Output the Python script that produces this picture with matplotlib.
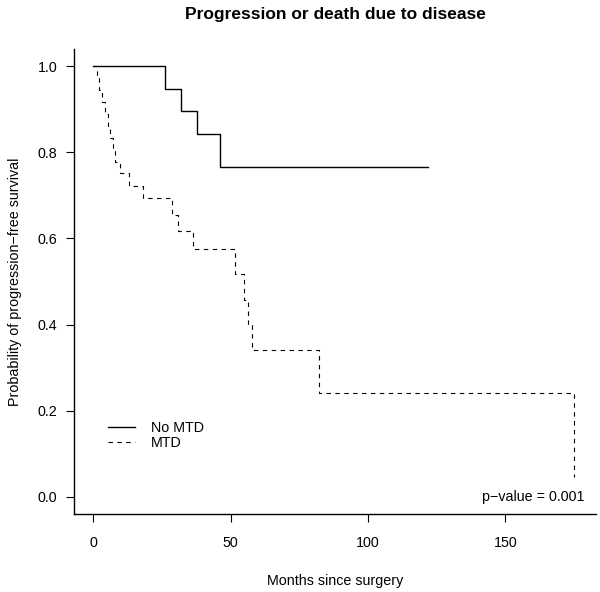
import matplotlib
matplotlib.use("Agg")
import matplotlib.pyplot as plt

plt.rcParams['font.family'] = ['Liberation Sans', 'DejaVu Sans']

# Kaplan-Meier step values
no_mtd_t = [0, 26.2, 32.0, 37.8, 46.0, 121.7]
no_mtd_s = [1.0, 0.947, 0.895, 0.842, 0.767, 0.767]

mtd_t = [0, 1.2, 2.2, 3.3, 4.2, 5.2, 6.1, 7.3, 8.0, 9.7, 13.1, 18.2,
         28.5, 31.0, 36.4, 51.7, 54.8, 56.2, 57.8, 82.0, 175.2]
mtd_s = [1.0, 0.972, 0.944, 0.917, 0.889, 0.861, 0.833, 0.806, 0.778, 0.751,
         0.722, 0.693, 0.654, 0.617, 0.576, 0.517, 0.457, 0.399, 0.341, 0.242, 0.047]

xticks = [0, 50, 100, 150]
yticks = [0.0, 0.2, 0.4, 0.6, 0.8, 1.0]

fs = 10.3

fig = plt.figure(figsize=(6, 5.92), dpi=100)
ax = fig.add_axes([74/600, 78/592, 522/600, 465/592])

ax.plot(no_mtd_t, no_mtd_s, drawstyle='steps-post', color='black', lw=1.0, label='No MTD')
ax.plot(mtd_t, mtd_s, drawstyle='steps-post', color='black', lw=0.8,
        linestyle=(0, (4, 4)), label='MTD')

ax.set_xlim(-7.04, 183.04)
ax.set_ylim(-0.04, 1.04)
ax.set_xticks(xticks)
ax.set_xticklabels([str(v) for v in xticks])
ax.set_yticks(yticks)
ax.set_yticklabels(['%.1f' % v for v in yticks])

for s in ['top', 'right']:
    ax.spines[s].set_visible(False)
for s in ['left', 'bottom']:
    ax.spines[s].set_linewidth(1.0)
ax.tick_params(direction='out', length=6, width=0.8, labelsize=fs, pad=10)
ax.tick_params(axis='y', pad=6)

ax.set_xlabel('Months since surgery', fontsize=fs, labelpad=17)
ax.set_ylabel('Probability of progression\u2212free survival', fontsize=fs, labelpad=11)
fig.text(335/600, 1 - 15/592, 'Progression or death due to disease', fontsize=12.5,
         fontweight='bold', ha='center', va='center')

ax.text(179, 0.0, 'p\u2212value = 0.001', ha='right', va='center', fontsize=fs)

ax.legend(loc='center left', bbox_to_anchor=(0.04, 0.169), frameon=False,
          fontsize=fs, handlelength=1.9, handletextpad=1.1, labelspacing=0.05)

fig.savefig('out.png', dpi=100)
